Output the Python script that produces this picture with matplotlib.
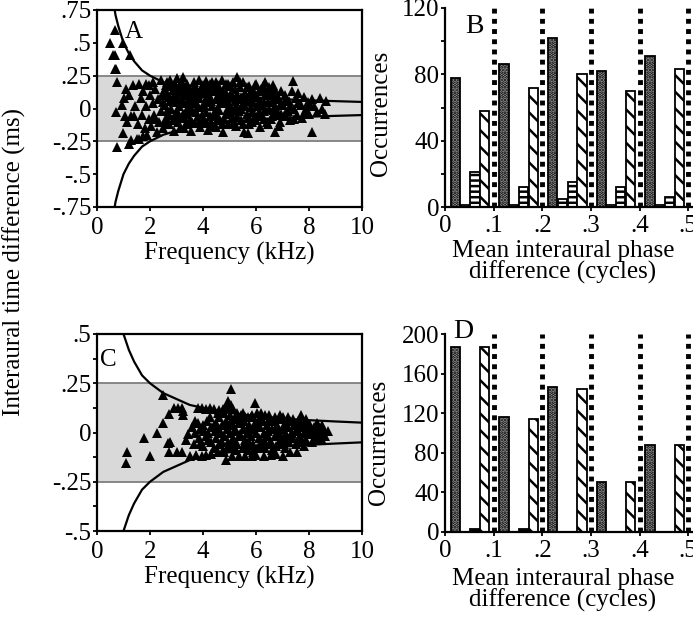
import numpy as np
import matplotlib.pyplot as plt

plt.rcParams['font.family'] = ['Liberation Serif', 'DejaVu Serif']
plt.rcParams['font.size'] = 18
plt.rcParams['hatch.linewidth'] = 1.8

##### DATA #####

# panel A: frequency (kHz), interaural time difference (ms)
pts_a = [
    (0.5, 0.5), (0.69, 0.6), (0.62, 0.41), (0.68, 0.41), (0.69, 0.3), (0.72, 0.3),
    (0.75, 0.2), (1.26, 0.41), (0.97, 0.5),
    (0.75, -0.29), (0.72, -0.03), (0.95, 0.03), (0.98, -0.19), (1.0, 0.08), (1.05, -0.06),
    (1.1, 0.15), (1.2, -0.27), (1.3, -0.24), (1.2, 0.1), (1.35, 0.18), (1.15, -0.1),
    (1.4, -0.06), (1.45, 0.02), (1.5, -0.23), (1.6, -0.23), (1.6, 0.19), (1.55, -0.12),
    (1.65, 0.08), (1.7, -0.05), (1.75, 0.13), (1.8, -0.15), (1.85, 0.02), (1.9, -0.2),
    (1.95, 0.18), (1.95, -0.08), (1.3, -0.06), (1.75, -0.21), (1.85, 0.19),
    (2.0, 0.1), (2.05, -0.13), (2.1, 0.2), (2.1, 0.04), (2.15, -0.05), (2.2, 0.15),
    (2.25, -0.18), (2.3, 0.07), (2.35, -0.1), (2.4, 0.22), (2.4, -0.02), (2.5, 0.12),
    (2.5, -0.15), (2.55, 0.03), (2.6, 0.18), (2.6, -0.07), (2.7, 0.09), (2.7, -0.12),
    (2.75, 0.22), (2.8, 0.0), (2.85, 0.14), (2.9, -0.17), (2.9, 0.05), (2.95, -0.05),
    (3.0, 0.23), (3.0, 0.11), (2.2, -0.08), (2.45, 0.1), (2.65, -0.02), (2.8, 0.17),
    (3.05, -0.1), (3.1, 0.17), (3.1, 0.02), (3.15, -0.15), (3.2, 0.08), (3.25, 0.24),
    (3.25, -0.04), (3.3, 0.13), (3.35, -0.12), (3.4, 0.19), (3.4, 0.0), (3.45, 0.06),
    (3.5, -0.08), (3.5, 0.15), (3.55, -0.17), (3.6, 0.1), (3.6, -0.02), (3.65, 0.2),
    (3.7, 0.04), (3.7, -0.11), (3.75, 0.14), (3.8, -0.06), (3.85, 0.22), (3.85, 0.08),
    (3.9, -0.14), (3.95, 0.01), (3.95, 0.17), (3.3, -0.07), (3.55, 0.04), (3.8, 0.11),
    (4.0, -0.08), (4.05, 0.12), (4.1, 0.21), (4.1, -0.03), (4.15, 0.05), (4.2, -0.16),
    (4.2, 0.16), (4.25, 0.09), (4.3, -0.1), (4.35, 0.2), (4.35, 0.02), (4.4, -0.05),
    (4.45, 0.13), (4.5, 0.07), (4.5, -0.14), (4.55, 0.18), (4.6, -0.01), (4.6, 0.1),
    (4.65, -0.09), (4.7, 0.22), (4.7, 0.04), (4.75, -0.18), (4.8, 0.15), (4.85, -0.04),
    (4.9, 0.08), (4.95, 0.19), (4.95, -0.12), (4.25, -0.06), (4.55, 0.0), (4.8, 0.06),
    (5.0, 0.02), (5.05, 0.12), (5.1, -0.07), (5.15, 0.2), (5.2, 0.06), (5.25, -0.13),
    (5.3, 0.24), (5.3, 0.1), (5.35, -0.02), (5.4, 0.16), (5.45, -0.09), (5.5, 0.04),
    (5.5, 0.2), (5.55, -0.18), (5.6, 0.12), (5.65, -0.04), (5.7, 0.08), (5.7, -0.19),
    (5.75, 0.17), (5.8, 0.01), (5.85, -0.1), (5.9, 0.14), (5.9, 0.05), (5.95, -0.06),
    (5.2, -0.01), (5.45, 0.09), (5.75, -0.12),
    (6.0, 0.19), (6.05, 0.09), (6.1, -0.03), (6.15, -0.14), (6.2, 0.15), (6.25, 0.03),
    (6.3, -0.08), (6.35, 0.2), (6.4, 0.1), (6.45, -0.12), (6.5, 0.0), (6.55, 0.14),
    (6.6, 0.06), (6.6, -0.06), (6.65, 0.18), (6.7, -0.18), (6.75, 0.11), (6.8, -0.02),
    (6.85, 0.07), (6.9, -0.1), (6.95, 0.13), (6.3, 0.05), (6.7, 0.02),
    (7.0, 0.03), (7.05, -0.06), (7.1, 0.1), (7.2, -0.02), (7.25, 0.06), (7.3, -0.09),
    (7.35, 0.13), (7.4, 0.21), (7.45, 0.0), (7.5, 0.08), (7.55, -0.05), (7.6, 0.12),
    (7.7, 0.03), (7.75, -0.07), (7.8, 0.09), (7.9, 0.0), (7.95, 0.05), (8.0, -0.04),
    (8.1, -0.18), (8.1, 0.07), (8.2, 0.02), (8.3, -0.03), (8.4, 0.08), (8.5, 0.0),
    (8.6, -0.04), (8.65, 0.06),
    (2.5, 0.05), (2.55, -0.1), (2.6, 0.13), (2.65, 0.2), (2.7, -0.05), (2.75, 0.06),
    (2.85, -0.09), (2.9, 0.1), (2.95, 0.19), (3.0, -0.02), (3.05, 0.07), (3.1, -0.06),
    (3.15, 0.13), (3.2, 0.2), (3.25, 0.04), (3.3, -0.15), (3.35, 0.1), (3.4, -0.04),
    (3.45, 0.16), (3.5, 0.02), (3.55, 0.12), (3.6, -0.1), (3.65, 0.07), (3.7, 0.17),
    (3.75, -0.03), (3.8, 0.02), (3.85, -0.1), (3.9, 0.12), (3.95, -0.05), (4.0, 0.18),
    (4.05, 0.03), (4.1, 0.08), (4.15, -0.11), (4.2, 0.12), (4.25, 0.19), (4.3, 0.06),
    (4.35, -0.13), (4.4, 0.15), (4.45, -0.02), (4.5, 0.2), (4.55, -0.07), (4.6, 0.14),
    (4.65, 0.04), (4.7, -0.12), (4.75, 0.1), (4.8, -0.08), (4.85, 0.19), (4.9, -0.01),
    (4.95, 0.05), (5.0, 0.17), (5.05, -0.04), (5.1, 0.09), (5.15, -0.11), (5.2, 0.15),
    (5.25, 0.02), (5.3, -0.06), (5.35, 0.07), (5.4, 0.2), (5.45, 0.0), (5.5, -0.12),
    (5.55, 0.1), (5.6, 0.02), (5.65, 0.16), (5.7, -0.07), (5.75, 0.06), (5.8, 0.13),
    (5.85, -0.03), (5.9, 0.09), (5.95, 0.18), (6.0, -0.09), (6.05, 0.02), (6.1, 0.13),
    (6.15, 0.06), (6.2, -0.06), (6.25, 0.17), (6.3, -0.02), (6.35, 0.1), (6.4, -0.1),
    (6.45, 0.05), (6.5, 0.16), (6.55, -0.08), (6.6, 0.1), (6.65, -0.01), (6.7, 0.14),
    (6.75, -0.05), (6.8, 0.09), (6.85, -0.13), (6.9, 0.03), (6.95, -0.04), (7.1, -0.04),
    (7.15, 0.07), (7.3, 0.02), (7.45, -0.08), (7.6, 0.04), (7.85, -0.02), (8.05, 0.03),
]

# panel C
pts_c = [
    (1.13, -0.10), (1.1, -0.155), (1.76, -0.03), (2.0, -0.12), (2.26, 0.0), (2.48, 0.19),
    (2.48, 0.05), (2.7, 0.095), (2.68, -0.055), (2.75, -0.05), (2.7, -0.1), (2.9, 0.125),
    (3.05, 0.125), (3.2, 0.125), (3.0, -0.1), (3.25, 0.09), (3.25, 0.11), (3.2, -0.1),
    (3.45, -0.01), (3.5, -0.12), (3.35, -0.04),
    (3.8, 0.125), (3.95, 0.125), (4.1, 0.12), (4.25, 0.125), (4.4, 0.12), (4.6, 0.115),
    (4.75, 0.12), (4.85, 0.13), (4.95, 0.16), (5.05, 0.22), (5.05, 0.14), (5.15, 0.12),
    (3.75, -0.115), (3.95, -0.12), (4.1, -0.115), (4.3, -0.11), (4.55, -0.1), (4.8, -0.1),
    (4.85, -0.14), (5.1, -0.12), (5.35, -0.12), (5.6, -0.12), (5.85, -0.12), (6.0, -0.115),
    (6.3, -0.12), (6.55, -0.115), (6.75, -0.11), (7.0, -0.12), (7.3, -0.1), (7.55, -0.1),
    (5.95, 0.15), (6.05, 0.1), (6.2, 0.1), (6.5, 0.09), (7.7, 0.09), (7.0, 0.08),
    (5.5, 0.1), (5.7, 0.08),
    (3.6, 0.03), (3.65, -0.06), (3.7, 0.0), (3.8, 0.05), (3.85, -0.03), (3.9, 0.02),
    (4.0, -0.07), (4.0, 0.04), (4.1, -0.02), (4.15, 0.06), (4.2, 0.0), (4.3, -0.05),
    (4.3, 0.03), (4.4, -0.08), (4.45, 0.01), (4.5, 0.05), (4.5, -0.03),
    (4.6, 0.08), (4.6, -0.06), (4.65, 0.0), (4.7, 0.04), (4.75, -0.09), (4.8, -0.02),
    (4.85, 0.06), (4.9, 0.02), (4.95, -0.05), (5.0, 0.09), (5.0, 0.0), (5.05, -0.08),
    (5.1, 0.04), (5.15, -0.03), (5.2, 0.07), (5.25, 0.01), (5.3, -0.06), (5.35, 0.05),
    (5.4, -0.01), (5.45, 0.09), (5.5, -0.08), (5.5, 0.02),
    (5.55, 0.06), (5.6, -0.04), (5.65, 0.0), (5.7, -0.09), (5.75, 0.04), (5.8, 0.08),
    (5.8, -0.02), (5.85, 0.02), (5.9, -0.06), (5.95, 0.05), (6.0, 0.0), (6.05, -0.08),
    (6.1, 0.07), (6.1, -0.03), (6.15, 0.03), (6.2, -0.05), (6.25, 0.06), (6.3, 0.0),
    (6.35, -0.08), (6.4, 0.04), (6.45, -0.02), (6.5, 0.07),
    (6.55, -0.05), (6.6, 0.02), (6.65, 0.06), (6.7, -0.02), (6.75, -0.07), (6.8, 0.04),
    (6.85, 0.0), (6.9, -0.04), (6.95, 0.07), (7.0, 0.02), (7.05, -0.06), (7.1, 0.05),
    (7.15, -0.01), (7.2, 0.03), (7.25, -0.05), (7.3, 0.06), (7.35, 0.0), (7.4, -0.03),
    (7.45, 0.04), (7.5, -0.06),
    (7.55, 0.02), (7.6, 0.06), (7.65, -0.02), (7.7, -0.05), (7.75, 0.03), (7.8, 0.0),
    (7.85, 0.05), (7.9, -0.04), (7.95, 0.02), (8.0, -0.01), (8.05, 0.04), (8.1, -0.05),
    (8.15, 0.01), (8.2, 0.03), (8.25, -0.03), (8.3, 0.0), (8.35, 0.04), (8.4, -0.02),
    (8.45, 0.02), (8.5, -0.04), (8.55, 0.01), (8.7, 0.01),
    (3.7, 0.06), (3.9, -0.06), (4.05, 0.01), (4.2, -0.04), (4.25, 0.08), (4.4, 0.04),
    (4.55, 0.1), (4.6, 0.02), (4.7, -0.05), (4.8, 0.1), (4.9, -0.08), (4.95, 0.04),
    (5.05, 0.06), (5.1, -0.05), (5.2, 0.02), (5.25, -0.09), (5.3, 0.1), (5.35, -0.02),
    (5.45, 0.05), (5.55, -0.06), (5.6, 0.08), (5.7, 0.02), (5.75, -0.05), (5.85, 0.09),
    (5.9, -0.1), (6.0, 0.05), (6.05, 0.03), (6.15, -0.07), (6.2, 0.07), (6.3, -0.04),
    (6.35, 0.09), (6.45, 0.01), (6.5, -0.06), (6.6, -0.09), (6.7, 0.08), (6.75, 0.02),
    (6.85, -0.06), (6.9, 0.09), (7.0, -0.03), (7.1, -0.08), (7.2, 0.08), (7.3, -0.02),
    (7.4, 0.07), (7.5, 0.01), (7.6, -0.04), (7.7, 0.05), (7.8, -0.07), (7.9, 0.07),
    (8.0, 0.04), (8.1, 0.0), (8.2, -0.04), (8.3, 0.05), (8.4, 0.01), (8.5, 0.04),
    (8.6, -0.02),
]

# half-period envelope (ms)
curve_f = [0.5, 0.6, 0.7, 0.8, 1.0, 1.2, 1.4, 1.7, 2.0, 2.5, 3.0, 3.5, 4.0, 5.0, 6.0, 7.0, 8.0, 9.0, 10.0]
curve_itd = [1.0, 0.83, 0.71, 0.63, 0.5, 0.42, 0.36, 0.29, 0.25, 0.2, 0.17, 0.14, 0.125,
             0.1, 0.083, 0.071, 0.0625, 0.056, 0.05]

# panels B / D: phase bins (cycles)
bin_start = [0.0, 0.1, 0.2, 0.3, 0.4]
b_stipple = [78, 86, 102, 82, 91]
b_small = [1, 1, 5, 1, 1]
b_horiz = [21, 12, 15, 12, 6]
b_diag = [58, 72, 80, 70, 83]
d_stipple = [187, 116, 146, 51, 88]
d_small = [0, 0, 0, 0, 0]
d_horiz = [3, 3, 0, 0, 0]
d_diag = [187, 114, 144, 51, 88]

W, H = 693, 626
fig = plt.figure(figsize=(W / 100, H / 100), dpi=100)


def px_axes(x0, y0, x1, y1):
    return fig.add_axes([x0 / W, 1 - y1 / H, (x1 - x0) / W, (y1 - y0) / H])


def itd_panel(ax, pts, ylim, yticks, ylabels, letter, lpos):
    ax.axhspan(-0.25, 0.25, color='#d9d9d9', zorder=0, lw=0)
    for yy in (-0.25, 0.25):
        ax.axhline(yy, color='#7f7f7f', lw=1.3, zorder=1)
    cf = np.array(curve_f)
    ci = np.array(curve_itd)
    ax.plot(cf, ci, color='black', lw=1.6, zorder=2)
    ax.plot(cf, -ci, color='black', lw=1.6, zorder=2)
    f, d = np.array(pts).T
    ax.plot(f, d, '^', color='black', ms=7, mew=0, zorder=3)
    ax.set_xlim(0, 10)
    ax.set_ylim(*ylim)
    ax.set_xticks([0, 2, 4, 6, 8, 10])
    ax.set_yticks(yticks)
    ax.set_yticklabels(ylabels)
    ax.tick_params(direction='out', length=3, width=1.3, pad=1)
    ax.tick_params(axis='x', pad=4)
    for s in ax.spines.values():
        s.set_linewidth(1.6)
    ax.set_xlabel('Frequency (kHz)', labelpad=2)
    ax.text(lpos[0], lpos[1], letter, fontsize=18, va='baseline')


def hist_panel(ax, series, ylim, yticks, minor, letter, lpos):
    hatches = ['.....', '---', '---', '\\\\']
    faces = ['#a8a8a8', 'white', 'white', 'white']
    for k, vals in enumerate(series):
        lefts = [b + 0.012 + k * 0.02 for b in bin_start]
        ax.bar(lefts, vals, width=0.019, align='edge', facecolor=faces[k],
               edgecolor='black', hatch=hatches[k], lw=1.3, zorder=2)
    for xv in [0.1, 0.2, 0.3, 0.4, 0.5]:
        ax.axvline(xv, color='black', lw=3.5, dashes=(1.0, 1.1), zorder=3)
    ax.set_xlim(0, 0.51)
    ax.set_ylim(*ylim)
    ax.set_xticks([0, 0.1, 0.2, 0.3, 0.4, 0.5])
    ax.set_xticklabels(['0', '.1', '.2', '.3', '.4', '.5'])
    ax.set_yticks(yticks)
    ax.set_yticks(minor, minor=True)
    ax.spines['top'].set_visible(False)
    ax.spines['right'].set_visible(False)
    for s in ('left', 'bottom'):
        ax.spines[s].set_linewidth(1.6)
    ax.tick_params(which='both', direction='out', length=3, width=1.3, pad=1)
    ax.tick_params(axis='x', pad=3)
    t = ax.text(lpos[0], lpos[1], letter, fontsize=20, va='baseline')
    t.set_clip_on(False)


ax_a = px_axes(97, 10, 362, 207)
itd_panel(ax_a, pts_a, (-0.75, 0.75), [0.75, 0.5, 0.25, 0, -0.25, -0.5, -0.75],
          ['.75', '.5', '.25', '0', '-.25', '-.5', '-.75'], 'A', (1.05, 0.54))

ax_c = px_axes(97, 334, 362, 531)
itd_panel(ax_c, pts_c, (-0.5, 0.5), [0.5, 0.25, 0, -0.25, -0.5],
          ['.5', '.25', '0', '-.25', '-.5'], 'C', (0.13, 0.34))
ax_c.set_yticks([0.375, 0.125, -0.125, -0.375], minor=True)
ax_c.tick_params(which='minor', direction='out', length=3, width=1.3)

ax_b = px_axes(445, 8, 693, 207)
hist_panel(ax_b, [b_stipple, b_small, b_horiz, b_diag], (0, 120), [0, 40, 80, 120],
           [20, 60, 100], 'B', (0.041, 105))

ax_d = px_axes(445, 334, 693, 532)
hist_panel(ax_d, [d_stipple, d_small, d_horiz, d_diag], (0, 200), [0, 40, 80, 120, 160, 200],
           [], 'D', (0.017, 196))

fig.text(14 / W, 1 - 262 / H, 'Interaural time difference (ms)', rotation=90,
         ha='center', va='center')
fig.text(381 / W, 1 - 113 / H, 'Occurrences', rotation=90, ha='center', va='center')
fig.text(379 / W, 1 - 442 / H, 'Occurrences', rotation=90, ha='center', va='center')
for yc in (262, 590):
    fig.text(563 / W, 1 - yc / H, 'Mean interaural phase\ndifference (cycles)',
             ha='center', va='center', linespacing=0.95)

fig.savefig('out.png', dpi=100)
